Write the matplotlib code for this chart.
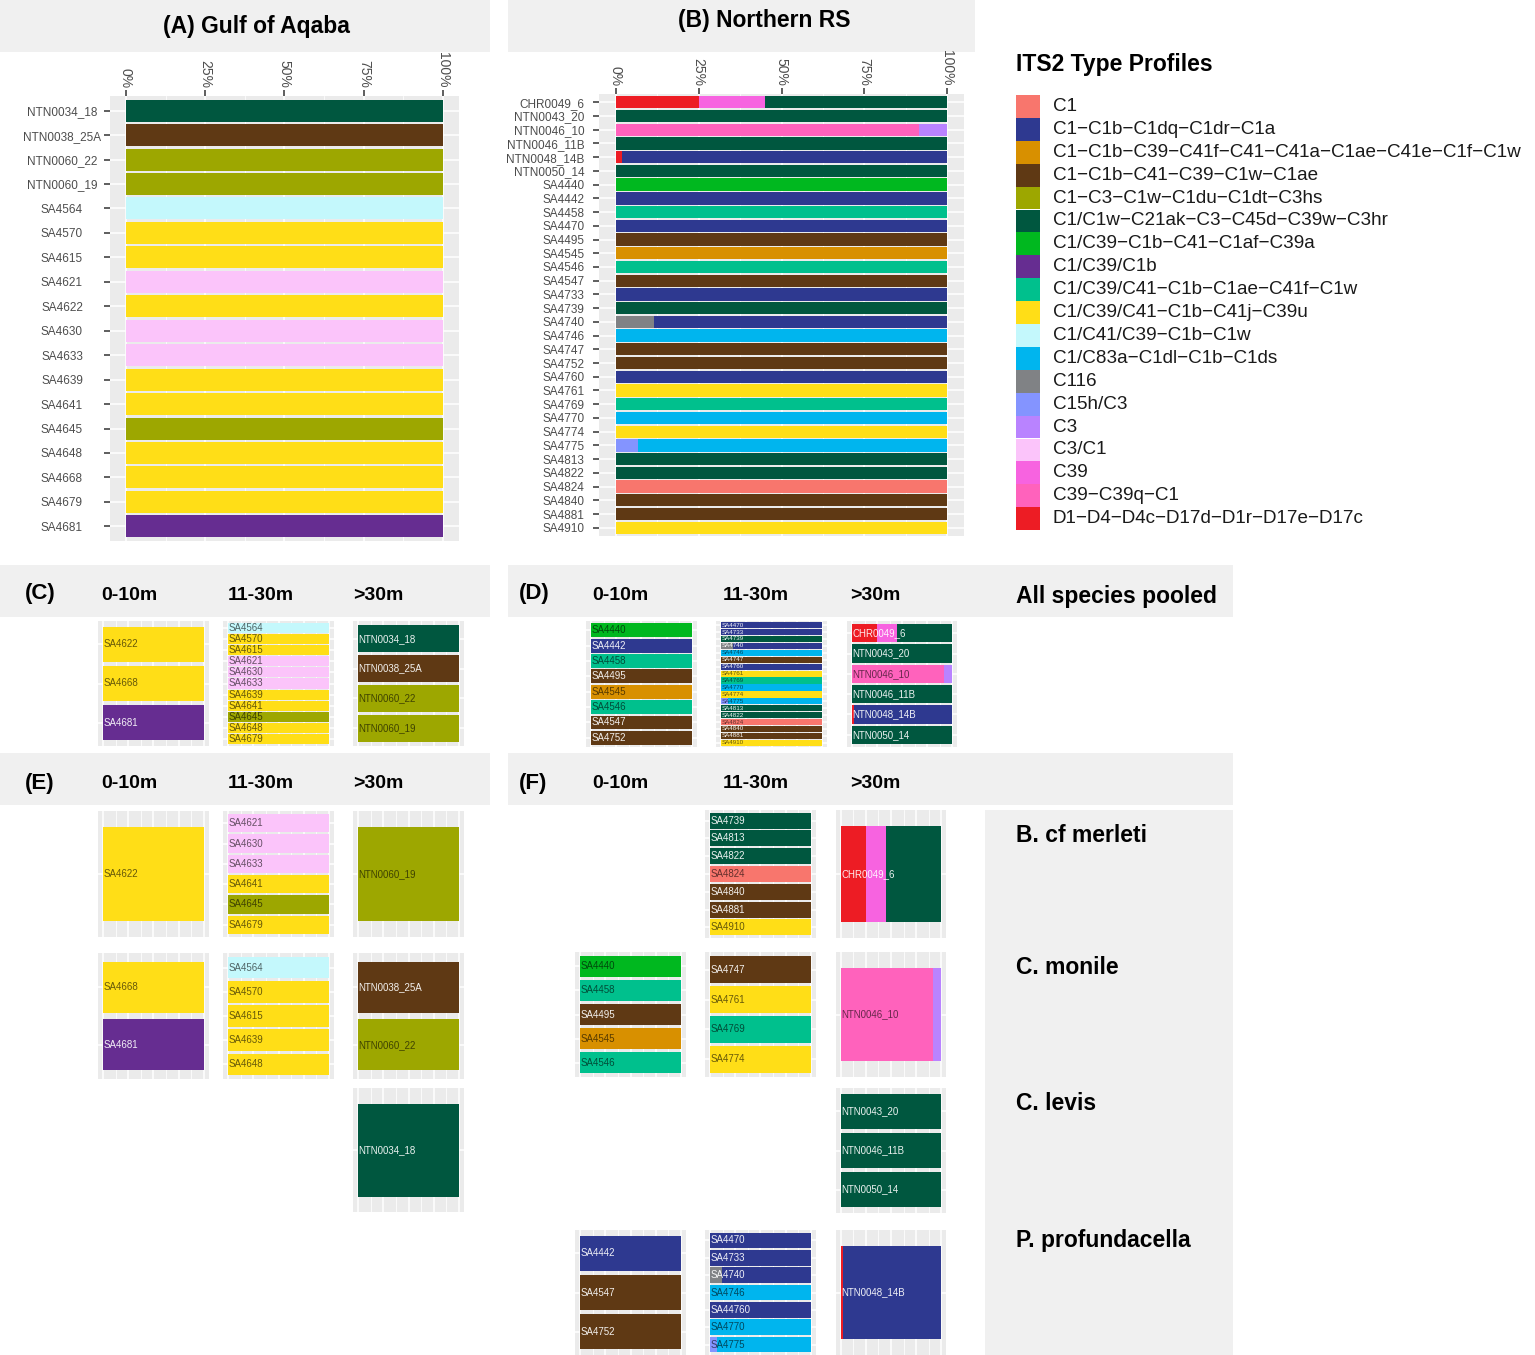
import matplotlib
matplotlib.use("Agg")
import matplotlib.pyplot as plt
from matplotlib.patches import Rectangle
from matplotlib.colors import to_rgb

plt.rcParams['font.family'] = ['Liberation Sans', 'DejaVu Sans']

# ---------------- data ----------------
PROFILES = [
    "C1", "C1-C1b-C1dq-C1dr-C1a", "C1-C1b-C39-C41f-C41-C41a-C1ae-C41e-C1f-C1w",
    "C1-C1b-C41-C39-C1w-C1ae", "C1-C3-C1w-C1du-C1dt-C3hs", "C1/C1w-C21ak-C3-C45d-C39w-C3hr",
    "C1/C39-C1b-C41-C1af-C39a", "C1/C39/C1b", "C1/C39/C41-C1b-C1ae-C41f-C1w",
    "C1/C39/C41-C1b-C41j-C39u", "C1/C41/C39-C1b-C1w", "C1/C83a-C1dl-C1b-C1ds",
    "C116", "C15h/C3", "C3", "C3/C1", "C39", "C39-C39q-C1", "D1-D4-D4c-D17d-D1r-D17e-D17c",
]
PROFILE_COLORS = [
    "#F8766D", "#2E3990", "#D89000", "#5F3914", "#9DA700", "#00573F",
    "#00B81F", "#662D91", "#00C08D", "#FFDE17", "#C4F8FC", "#00B5EE",
    "#808285", "#8494FF", "#B983FF", "#FBC4FA", "#F763E0", "#FF62BC", "#ED1C24",
]

GOA_SAMPLES = ["NTN0034_18", "NTN0038_25A", "NTN0060_22", "NTN0060_19", "SA4564", "SA4570",
               "SA4615", "SA4621", "SA4622", "SA4630", "SA4633", "SA4639", "SA4641", "SA4645",
               "SA4648", "SA4668", "SA4679", "SA4681"]
GOA_PROFILE = ["C1/C1w-C21ak-C3-C45d-C39w-C3hr", "C1-C1b-C41-C39-C1w-C1ae",
               "C1-C3-C1w-C1du-C1dt-C3hs", "C1-C3-C1w-C1du-C1dt-C3hs", "C1/C41/C39-C1b-C1w",
               "C1/C39/C41-C1b-C41j-C39u", "C1/C39/C41-C1b-C41j-C39u", "C3/C1",
               "C1/C39/C41-C1b-C41j-C39u", "C3/C1", "C3/C1", "C1/C39/C41-C1b-C41j-C39u",
               "C1/C39/C41-C1b-C41j-C39u", "C1-C3-C1w-C1du-C1dt-C3hs", "C1/C39/C41-C1b-C41j-C39u",
               "C1/C39/C41-C1b-C41j-C39u", "C1/C39/C41-C1b-C41j-C39u", "C1/C39/C1b"]

NRS_SAMPLES = ["CHR0049_6", "NTN0043_20", "NTN0046_10", "NTN0046_11B", "NTN0048_14B", "NTN0050_14",
               "SA4440", "SA4442", "SA4458", "SA4470", "SA4495", "SA4545", "SA4546", "SA4547",
               "SA4733", "SA4739", "SA4740", "SA4746", "SA4747", "SA4752", "SA4760", "SA4761",
               "SA4769", "SA4770", "SA4774", "SA4775", "SA4813", "SA4822", "SA4824", "SA4840",
               "SA4881", "SA4910"]
NRS_PROFILE = ["C1/C1w-C21ak-C3-C45d-C39w-C3hr", "C1/C1w-C21ak-C3-C45d-C39w-C3hr", "C39-C39q-C1",
               "C1/C1w-C21ak-C3-C45d-C39w-C3hr", "C1-C1b-C1dq-C1dr-C1a", "C1/C1w-C21ak-C3-C45d-C39w-C3hr",
               "C1/C39-C1b-C41-C1af-C39a", "C1-C1b-C1dq-C1dr-C1a", "C1/C39/C41-C1b-C1ae-C41f-C1w",
               "C1-C1b-C1dq-C1dr-C1a", "C1-C1b-C41-C39-C1w-C1ae",
               "C1-C1b-C39-C41f-C41-C41a-C1ae-C41e-C1f-C1w", "C1/C39/C41-C1b-C1ae-C41f-C1w",
               "C1-C1b-C41-C39-C1w-C1ae", "C1-C1b-C1dq-C1dr-C1a", "C1/C1w-C21ak-C3-C45d-C39w-C3hr",
               "C1-C1b-C1dq-C1dr-C1a", "C1/C83a-C1dl-C1b-C1ds", "C1-C1b-C41-C39-C1w-C1ae",
               "C1-C1b-C41-C39-C1w-C1ae", "C1-C1b-C1dq-C1dr-C1a", "C1/C39/C41-C1b-C41j-C39u",
               "C1/C39/C41-C1b-C1ae-C41f-C1w", "C1/C83a-C1dl-C1b-C1ds", "C1/C39/C41-C1b-C41j-C39u",
               "C1/C83a-C1dl-C1b-C1ds", "C1/C1w-C21ak-C3-C45d-C39w-C3hr",
               "C1/C1w-C21ak-C3-C45d-C39w-C3hr", "C1", "C1-C1b-C41-C39-C1w-C1ae",
               "C1-C1b-C41-C39-C1w-C1ae", "C1/C39/C41-C1b-C41j-C39u"]

# samples with more than one profile (profile, proportion) in stacking order
MIXED = {
    "CHR0049_6": [("D1-D4-D4c-D17d-D1r-D17e-D17c", 0.25), ("C39", 0.20),
                  ("C1/C1w-C21ak-C3-C45d-C39w-C3hr", 0.55)],
    "NTN0046_10": [("C39-C39q-C1", 0.915), ("C3", 0.085)],
    "NTN0048_14B": [("D1-D4-D4c-D17d-D1r-D17e-D17c", 0.02), ("C1-C1b-C1dq-C1dr-C1a", 0.98)],
    "SA4740": [("C116", 0.115), ("C1-C1b-C1dq-C1dr-C1a", 0.885)],
    "SA4775": [("C15h/C3", 0.068), ("C1/C83a-C1dl-C1b-C1ds", 0.932)],
}
LABEL_ALIAS = {"SA44760": "SA4760"}   # label as printed in panel F

DEPTHS = ["0-10m", "11-30m", ">30m"]
SPECIES = ["B. cf merleti", "C. monile", "C. levis", "P. profundacella"]

C_GROUPS = [["SA4622", "SA4668", "SA4681"],
            ["SA4564", "SA4570", "SA4615", "SA4621", "SA4630", "SA4633", "SA4639", "SA4641",
             "SA4645", "SA4648", "SA4679"],
            ["NTN0034_18", "NTN0038_25A", "NTN0060_22", "NTN0060_19"]]
D_GROUPS = [["SA4440", "SA4442", "SA4458", "SA4495", "SA4545", "SA4546", "SA4547", "SA4752"],
            ["SA4470", "SA4733", "SA4739", "SA4740", "SA4746", "SA4747", "SA4760", "SA4761",
             "SA4769", "SA4770", "SA4774", "SA4775", "SA4813", "SA4822", "SA4824", "SA4840",
             "SA4881", "SA4910"],
            ["CHR0049_6", "NTN0043_20", "NTN0046_10", "NTN0046_11B", "NTN0048_14B", "NTN0050_14"]]
# E: rows x depth
E_GROUPS = [[["SA4622"], ["SA4621", "SA4630", "SA4633", "SA4641", "SA4645", "SA4679"], ["NTN0060_19"]],
            [["SA4668", "SA4681"], ["SA4564", "SA4570", "SA4615", "SA4639", "SA4648"],
             ["NTN0038_25A", "NTN0060_22"]],
            [[], [], ["NTN0034_18"]]]
F_GROUPS = [[[], ["SA4739", "SA4813", "SA4822", "SA4824", "SA4840", "SA4881", "SA4910"], ["CHR0049_6"]],
            [["SA4440", "SA4458", "SA4495", "SA4545", "SA4546"], ["SA4747", "SA4761", "SA4769", "SA4774"],
             ["NTN0046_10"]],
            [[], [], ["NTN0043_20", "NTN0046_11B", "NTN0050_14"]],
            [["SA4442", "SA4547", "SA4752"],
             ["SA4470", "SA4733", "SA4740", "SA4746", "SA44760", "SA4770", "SA4775"], ["NTN0048_14B"]]]

# ---------------- helpers ----------------
COLOR = dict(zip(PROFILES, PROFILE_COLORS))
DOMINANT = dict(zip(GOA_SAMPLES, GOA_PROFILE))
DOMINANT.update(dict(zip(NRS_SAMPLES, NRS_PROFILE)))


def composition(name):
    name = LABEL_ALIAS.get(name, name)
    return MIXED.get(name, [(DOMINANT[name], 1.0)])


def disp(s):
    return s.replace("-", "\u2212")


def luminance(c):
    r, g, b = to_rgb(c)
    lin = [v / 12.92 if v <= 0.04045 else ((v + 0.055) / 1.055) ** 2.4 for v in (r, g, b)]
    return 0.2126 * lin[0] + 0.7152 * lin[1] + 0.0722 * lin[2]


W, H = 1535, 1355
fig = plt.figure(figsize=(W / 100, H / 100), dpi=100)

ov = fig.add_axes([0, 0, 1, 1])
ov.set_xlim(0, W)
ov.set_ylim(H, 0)
ov.axis('off')
ov.set_zorder(-1)

STRIP = "#F0F0F0"
TICK_C = "#333333"
LAB_C = "#4D4D4D"


def axbox(x0, y0, x1, y1):
    return fig.add_axes([x0 / W, 1 - y1 / H, (x1 - x0) / W, (y1 - y0) / H])


def style(ax, n):
    ax.set_facecolor("#EBEBEB")
    ax.set_xlim(-0.05, 1.05)
    if n == 1:
        ax.set_ylim(0.6, -0.6)
    else:
        ax.set_ylim(n - 1 + 0.6, -0.6)
    ax.set_xticks([0, 0.25, 0.5, 0.75, 1.0])
    ax.set_xticks([0.125, 0.375, 0.625, 0.875], minor=True)
    ax.set_yticks(range(n))
    ax.grid(which='major', color='white', lw=1.1)
    ax.grid(which='minor', axis='x', color='white', lw=0.55)
    ax.set_axisbelow(True)
    for s in ax.spines.values():
        s.set_visible(False)


def draw_bars(ax, names):
    for i, nm in enumerate(names):
        left = 0.0
        for prof, frac in composition(nm):
            ax.barh(i, frac, left=left, height=0.9, color=COLOR[prof], linewidth=0)
            left += frac


def small_panel(box, names):
    if not names:
        return
    x0, y0, x1, y1 = box
    ax = axbox(x0, y0, x1, y1)
    n = len(names)
    style(ax, n)
    ax.tick_params(which='both', length=0, labelleft=False, labelbottom=False)
    draw_bars(ax, names)
    span = 1.2 if n == 1 else n + 0.2
    bar_px = 0.9 * (y1 - y0) / span
    fs = min(7.0, bar_px * 0.72)
    for i, nm in enumerate(names):
        first = composition(nm)[0][0]
        col = (1, 1, 1, 0.92) if luminance(COLOR[first]) < 0.25 else (0, 0, 0, 0.6)
        ax.text(0.003, i, nm, ha='left', va='center', fontsize=fs, color=col)


# ---------------- panels A and B ----------------
def big_panel(box, names, label_ha, pad):
    ax = axbox(*box)
    n = len(names)
    style(ax, n)
    draw_bars(ax, names)
    ax.xaxis.set_ticks_position('top')
    ax.set_xticklabels(["0%", "25%", "50%", "75%", "100%"])
    ax.tick_params(axis='x', which='major', top=True, bottom=False, labeltop=True,
                   labelbottom=False, length=4.3, width=1.1, color=TICK_C, pad=1.5,
                   labelsize=10, labelcolor=LAB_C, labelrotation=-90)
    ax.tick_params(axis='x', which='minor', length=0, top=False, bottom=False)
    ax.set_yticks(range(n))
    ax.set_yticklabels(names)
    ax.tick_params(axis='y', length=4.3, width=1.1, color=TICK_C, pad=pad,
                   labelsize=8.5, labelcolor=LAB_C)
    for t in ax.get_xticklabels():
        t.set_ha('center')
        t.set_va('bottom')
    for t in ax.get_yticklabels():
        t.set_ha(label_ha)
    return ax


big_panel((110, 96, 459, 541), GOA_SAMPLES, 'center', 30.3)
big_panel((599, 94, 964, 536), NRS_SAMPLES, 'right', 6.0)

# titles / strips for A and B
ov.add_patch(Rectangle((0, 0), 490, 52, color=STRIP, lw=0))
ov.add_patch(Rectangle((508, 0), 467, 52, color=STRIP, lw=0))
ov.text(256, 26, "(A) Gulf of Aqaba", ha='center', va='center', fontsize=16.5, fontweight='bold')
ov.text(764, 21, "(B) Northern RS", ha='center', va='center', fontsize=16.5, fontweight='bold')

# legend
ov.text(1016, 65, "ITS2 Type Profiles", ha='left', va='center', fontsize=16.5, fontweight='bold')
key_h = 22.9
for k, (p, c) in enumerate(zip(PROFILES, PROFILE_COLORS)):
    ov.add_patch(Rectangle((1016, 95 + k * key_h), 24, key_h, color=c, lw=0))
    ov.text(1053, 95 + (k + 0.5) * key_h, disp(p), ha='left', va='center', fontsize=13.6,
            color='#1A1A1A')

# ---------------- strips for C-F ----------------
ov.add_patch(Rectangle((0, 565), 490, 52, color=STRIP, lw=0))
ov.add_patch(Rectangle((508, 565), 725, 52, color=STRIP, lw=0))
ov.add_patch(Rectangle((0, 753), 490, 52, color=STRIP, lw=0))
ov.add_patch(Rectangle((508, 753), 725, 52, color=STRIP, lw=0))
ov.add_patch(Rectangle((985, 810), 248, 545, color=STRIP, lw=0))

LEFT_X = [101, 228, 353]
RIGHT_X = [592, 723, 850]
for lab, ys, xs, lx in [("(C)", 594, LEFT_X, 25), ("(E)", 783, LEFT_X, 25),
                        ("(D)", 594, RIGHT_X, 519), ("(F)", 783, RIGHT_X, 519)]:
    ov.text(lx, ys, lab, ha='left', va='center', fontsize=16, fontweight='bold')
    for d, x in zip(DEPTHS, xs):
        ov.text(x, ys + 1, d, ha='left', va='center', fontsize=14, fontweight='bold')
ov.text(1016, 597, "All species pooled", ha='left', va='center', fontsize=16.5, fontweight='bold')
for sp, y in zip(SPECIES, [835, 967, 1103, 1240]):
    ov.text(1016, y, sp, ha='left', va='center', fontsize=16.5, fontweight='bold')

# ---------------- small panels ----------------
C_X = [(98, 209), (223, 334), (353, 464)]
D_X = [(586, 697), (716, 827), (847, 957)]
F_X = [(575, 686), (705, 816), (836, 946)]

for (xa, xb), g in zip(C_X, C_GROUPS):
    small_panel((xa, 621, xb, 746), g)
for (xa, xb), g in zip(D_X, D_GROUPS):
    small_panel((xa, 621, xb, 747), g)

E_Y = [(811, 937), (953, 1079), (1088, 1212)]
for (ya, yb), row in zip(E_Y, E_GROUPS):
    for (xa, xb), g in zip(C_X, row):
        small_panel((xa, ya, xb, yb), g)

F_Y = [(810, 938), (952, 1077), (1088, 1213), (1230, 1355)]
for (ya, yb), row in zip(F_Y, F_GROUPS):
    for (xa, xb), g in zip(F_X, row):
        small_panel((xa, ya, xb, yb), g)

fig.savefig("out.png", dpi=100)
